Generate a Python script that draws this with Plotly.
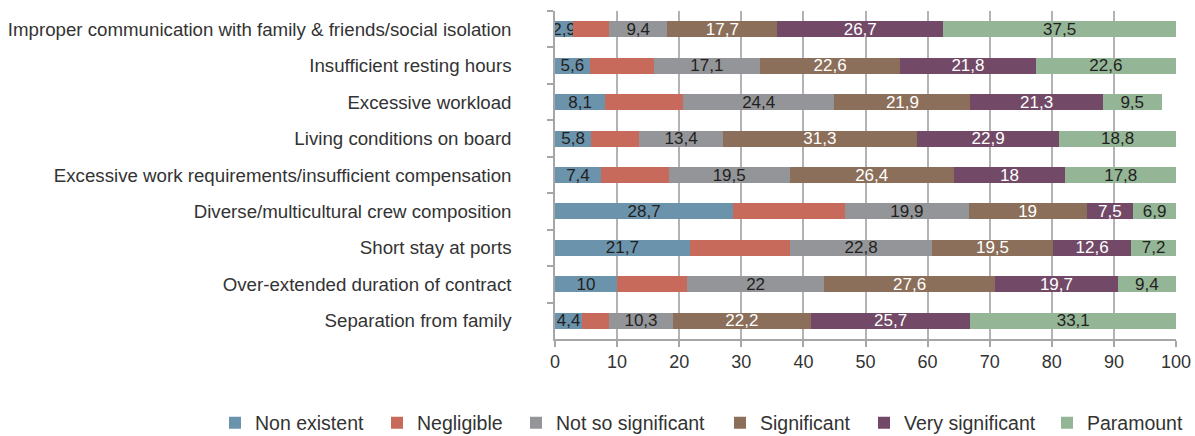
import plotly.graph_objects as go

categories = [
    "Improper communication with family & friends/social isolation",
    "Insufficient resting hours",
    "Excessive workload",
    "Living conditions on board",
    "Excessive work requirements/insufficient compensation",
    "Diverse/multicultural crew composition",
    "Short stay at ports",
    "Over-extended duration of contract",
    "Separation from family",
]

non_existent = [2.9, 5.6, 8.1, 5.8, 7.4, 28.7, 21.7, 10, 4.4]
negligible = [5.8, 10.3, 12.5, 7.8, 10.9, 18.0, 16.2, 11.3, 4.3]
not_so_significant = [9.4, 17.1, 24.4, 13.4, 19.5, 19.9, 22.8, 22, 10.3]
significant = [17.7, 22.6, 21.9, 31.3, 26.4, 19, 19.5, 27.6, 22.2]
very_significant = [26.7, 21.8, 21.3, 22.9, 18, 7.5, 12.6, 19.7, 25.7]
paramount = [37.5, 22.6, 9.5, 18.8, 17.8, 6.9, 7.2, 9.4, 33.1]

x_ticks = [0, 10, 20, 30, 40, 50, 60, 70, 80, 90, 100]

series = [
    ("Non existent", non_existent, "#6b93ac", "#231f20", True),
    ("Negligible", negligible, "#c7695b", "#231f20", False),
    ("Not so significant", not_so_significant, "#939598", "#231f20", True),
    ("Significant", significant, "#8b6f5a", "#ffffff", True),
    ("Very significant", very_significant, "#724a68", "#ffffff", True),
    ("Paramount", paramount, "#94b697", "#231f20", True),
]

FONT = "Liberation Sans, Arial, sans-serif"

# layout: legend entry left edges (px) in the figure
W, H = 1195, 436
ML, MR, MT, MB = 555, 19, 11, 97
PLOT_W = W - ML - MR
PLOT_H = H - MT - MB
legend_px = [215, 377, 516, 720, 864, 1047]
legend_center_py = 423


def fmt(v):
    return f"{v:g}".replace(".", ",")


fig = go.Figure()
for i, (name, vals, color, tcolor, show_text) in enumerate(series):
    fig.add_trace(go.Bar(
        name=name,
        y=categories,
        x=vals,
        orientation="h",
        marker=dict(color=color, line=dict(width=0)),
        text=[fmt(v) for v in vals] if show_text else None,
        textposition="inside" if show_text else "none",
        insidetextanchor="middle",
        textangle=0,
        constraintext="none",
        textfont=dict(family=FONT, size=17, color=tcolor),
        hoverinfo="skip",
        legend="legend" if i == 0 else f"legend{i + 1}",
    ))

legend_common = dict(
    orientation="h",
    xanchor="left",
    yref="paper",
    y=-(legend_center_py - (H - MB)) / PLOT_H,
    yanchor="middle",
    font=dict(family=FONT, size=19.5, color="#333333"),
    itemclick=False,
    itemdoubleclick=False,
    bgcolor="rgba(0,0,0,0)",
)
legends = {}
for i, px in enumerate(legend_px):
    key = "legend" if i == 0 else f"legend{i + 1}"
    legends[key] = dict(legend_common, x=(px - ML) / PLOT_W)

fig.update_layout(
    barmode="stack",
    bargap=0.56,
    width=W,
    height=H,
    margin=dict(l=ML, r=MR, t=MT, b=MB, autoexpand=False),
    paper_bgcolor="white",
    plot_bgcolor="white",
    font=dict(family=FONT, size=18.5, color="#333333"),
    uniformtext=dict(minsize=17, mode="show"),
    showlegend=True,
    xaxis=dict(
        range=[0, 100],
        tickvals=x_ticks,
        showgrid=True,
        gridcolor="#b3b3b5",
        gridwidth=1.5,
        showline=True,
        linecolor="#a6a6a8",
        linewidth=1.5,
        ticks="outside",
        ticklen=6,
        tickcolor="#a6a6a8",
        tickwidth=1.5,
        zeroline=False,
        automargin=False,
        tickfont=dict(family=FONT, size=18, color="#333333"),
    ),
    yaxis=dict(
        categoryorder="array",
        categoryarray=categories,
        autorange="reversed",
        showline=True,
        linecolor="#a6a6a8",
        linewidth=1.5,
        ticks="outside",
        tickson="boundaries",
        ticklen=6,
        tickcolor="#a6a6a8",
        tickwidth=1.5,
        showgrid=False,
        automargin=False,
        ticklabelstandoff=38,
        tickfont=dict(family=FONT, size=18.7, color="#333333"),
    ),
    **legends,
)

fig.write_html(
    "out.html",
    config={"displayModeBar": False},
    post_script="document.body.style.margin='0';",
)
